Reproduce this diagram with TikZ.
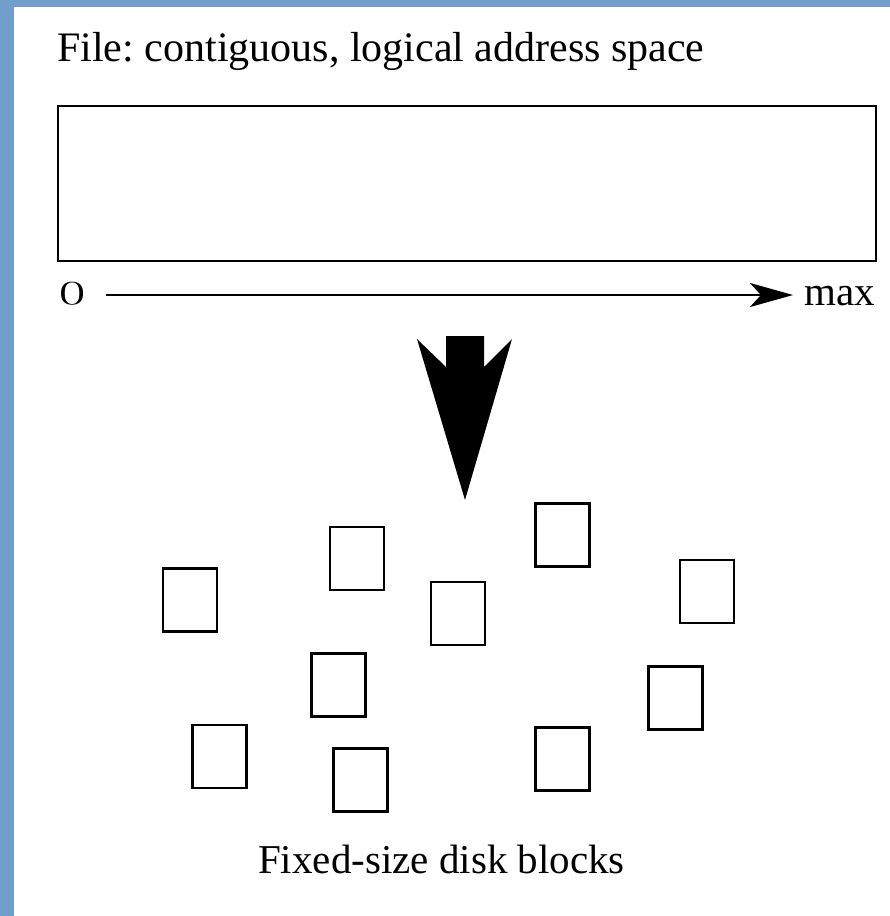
\documentclass[tikz,border=0pt]{standalone}
\usepackage{fontspec}
\setmainfont{Liberation Serif}
\newfontfamily\lmosf{Latin Modern Roman}[Numbers=OldStyle]
\usetikzlibrary{arrows.meta}
\definecolor{framebar}{RGB}{114,158,206}
\frenchspacing
\tikzset{
  label text/.style={inner sep=0pt, font=\fontsize{41}{49}\selectfont},
  diskblock/.style={draw, line width=2.8pt, minimum width=54pt, minimum height=63pt, inner sep=0pt},
}
\begin{document}
\begin{tikzpicture}[x=1pt,y=-1pt]
\useasboundingbox (0,0) rectangle (890,916);
\fill[white] (0,0) rectangle (890,916);
% frame bars along the top and left edges
\fill[framebar] (0,0) rectangle (890,7);
\fill[framebar] (0,0) rectangle (14,916);

% the file as one contiguous logical address space
\node[label text, font=\fontsize{42}{50}\selectfont, anchor=base west] (title) at (57,61) {File: contiguous, logical address space};
\node[draw, line width=2.8pt, minimum width=818pt, minimum height=155pt, inner sep=0pt] (file) at (467,183.5) {};

% address axis from 0 to max (old-style zero, slightly widened)
\node[label text, font=\fontsize{48}{54}\selectfont, anchor=base west] (zero) at (57,304.5) {\scalebox{1.2}[1]{\lmosf 0}};
\node[label text, anchor=base west] (max) at (804,305) {max};
\draw[line width=2.4pt, -{Stealth[length=43pt, width=24pt, inset=11pt]}]
  ([xshift=19pt]zero.east |- 0,295) -- ([xshift=-11pt]max.west |- 0,295);

% large block arrow pointing down
\fill (446,336) -- (484,336) -- (484,367) -- (512,339) -- (465,500)
  -- (417,339) -- (446,367) -- cycle;

% scattered fixed-size disk blocks
\node[diskblock] (b1) at (190,600) {};
\node[diskblock] (b2) at (357,558.5) {};
\node[diskblock] (b3) at (458,613.5) {};
\node[diskblock] (b4) at (562.3,535) {};
\node[diskblock] (b5) at (707,591.5) {};
\node[diskblock] (b6) at (338.3,685.3) {};
\node[diskblock] (b7) at (675.5,698) {};
\node[diskblock] (b8) at (219.2,756.5) {};
\node[diskblock] (b9) at (360.3,780.3) {};
\node[diskblock] (b10) at (562.3,758.8) {};

\node[label text, anchor=base west] (caption) at (258,873) {Fixed-size disk blocks};
\end{tikzpicture}
\end{document}
